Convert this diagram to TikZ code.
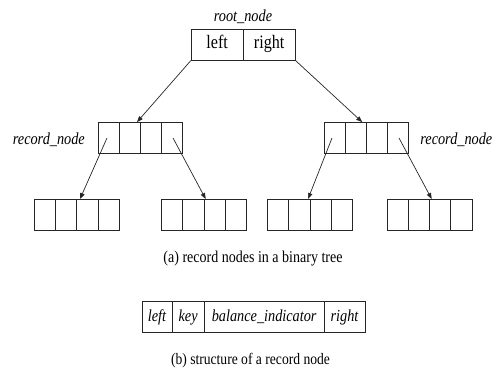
\documentclass[tikz,border=0pt]{standalone}
\usepackage{fontspec}
\setmainfont{Liberation Serif}
\newfontfamily\condfont[FakeStretch=0.85]{Liberation Serif}
\usetikzlibrary{arrows.meta,calc}
\begin{document}
\begin{tikzpicture}[x=1pt,y=-1pt,
  ln/.style={draw=black!85, line width=0.8pt},
  box/.style={ln, inner sep=0pt},
  rec/.style={box, minimum width=84pt, minimum height=31pt, path picture={
     \foreach \i in {1,2,3} \draw[black!85,line width=0.8pt]
       ($(path picture bounding box.north west)!\i/4!(path picture bounding box.north east)$) --
       ($(path picture bounding box.south west)!\i/4!(path picture bounding box.south east)$);}},
  rootcell/.style={box, minimum width=52pt, minimum height=31pt, text height=10pt, text depth=2.8pt,
     font=\condfont\fontsize{19}{21}\selectfont},
  lbl/.style={font=\condfont\fontsize{16.8}{19}\selectfont\itshape, inner sep=0pt, anchor=base},
  captxt/.style={font=\condfont\fontsize{16.5}{19}\selectfont, inner sep=0pt, anchor=base},
  fld/.style={box, minimum height=31.4pt, text height=11pt, text depth=1.6pt,
     font=\condfont\fontsize{16.8}{19}\selectfont\itshape},
  arr/.style={-{Triangle[length=6pt,width=4.5pt]}, line width=0.7pt, black!85},
]
\useasboundingbox (0,0) rectangle (493,372);
% root node
\node[rootcell] (rootL) at (217.2,44.7) {left};
\node[rootcell] (rootR) at (269.2,44.7) {right};
\node[lbl] (rootlbl) at (243,21) {root\_node};
% level 2
\node[rec] (L) at (140,138) {};
\node[rec] (R) at (366.7,138) {};
\node[lbl, anchor=base east] (Llbl) at (85,144.5) {record\_node};
\node[lbl, anchor=base east] (Rlbl) at (492.5,144.5) {record\_node};
% level 3
\node[rec, minimum width=85pt] (B1) at (76.8,214.9) {};
\node[rec, minimum width=85pt] (B2) at (204,214.9) {};
\node[rec, minimum width=85pt] (B3) at (309.9,214.9) {};
\node[rec, minimum width=85pt] (B4) at (429.5,214.9) {};
% arrows
\draw[arr] (rootL.south west) -- ($(L.north)+(-3,0)$);
\draw[arr] (rootR.south east) -- ($(R.north)+(-4.5,0)$);
\draw[arr] ($(L.center)+(-33,0)$) -- ($(B1.north)+(3.2,0)$);
\draw[arr] ($(L.center)+(33,0)$) -- ($(B2.north)+(1.7,0)$);
\draw[arr] ($(R.center)+(-34.7,0)$) -- ($(B3.north)+(-1.9,0)$);
\draw[arr] ($(R.center)+(32.3,0)$) -- ($(B4.north)+(2.2,0)$);
\node[captxt] (capa) at (253,262) {(a) record nodes in a binary tree};
% record structure
\node[fld, minimum width=30pt] (f1) at (157,317) {left};
\node[fld, minimum width=32.3pt] (f2) at (188.15,317) {key};
\node[fld, minimum width=119.7pt] (f3) at (264.15,317) {balance\_indicator};
\node[fld, minimum width=41pt] (f4) at (344.5,317) {right};
\node[captxt, font=\condfont\fontsize{16}{19}\selectfont] (capb) at (250.5,364.5) {(b) structure of a record node};
\end{tikzpicture}
\end{document}
